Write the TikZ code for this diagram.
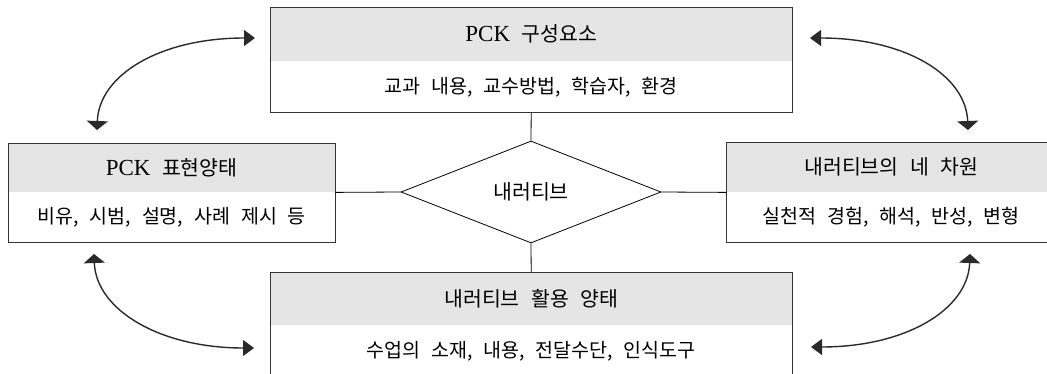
\documentclass[tikz,border=0pt]{standalone}
\usepackage{fontspec}
\setmainfont{Liberation Serif}
\newfontfamily\kr[WordSpace=2.5]{Noto Sans CJK KR}
\usetikzlibrary{shapes.geometric,arrows.meta}
\definecolor{hdr}{HTML}{E5E5E5}
\definecolor{frm}{HTML}{333333}
\definecolor{arc}{HTML}{2A2A2A}
\newcommand{\pck}{{\fontsize{23}{26}\selectfont\rmfamily PCK}}
\tikzset{
  hd/.style={fill=hdr, inner sep=0pt, anchor=north west, text=black, font=\fontsize{20.5}{24}\selectfont\kr},
  bd/.style={inner sep=0pt, anchor=north west, text=black, font=\fontsize{19.5}{23}\selectfont\kr},
  frame/.style={draw=frm, line width=0.9pt},
  link/.style={draw=black, line width=0.8pt},
  arr/.style={draw=arc, line width=1.4pt},
  htip/.tip={Triangle[length=11pt,width=16pt]},
  vtip/.tip={Triangle[length=9pt,width=21pt]}
}
\begin{document}
\begin{tikzpicture}[x=1pt,y=-1pt]
\useasboundingbox (0,0) rectangle (1047,374);
\clip (0,0) rectangle (1047,374);
% top box
\node[hd, minimum width=522pt, minimum height=54pt] (topH) at (270,7) {\pck{} 구성요소};
\node[bd, minimum width=522pt, minimum height=51pt] (topB) at (topH.south west) {교과 내용, 교수방법, 학습자, 환경};
\draw[frame] (topH.north west) rectangle (topB.south east);
% left box
\node[hd, minimum width=327pt, minimum height=49pt] (leftH) at (8,143) {\pck{} 표현양태};
\node[bd, minimum width=327pt, minimum height=50pt] (leftB) at (leftH.south west) {비유, 시범, 설명, 사례 제시 등};
\draw[frame] (leftH.north west) rectangle (leftB.south east);
% right box
\node[hd, minimum width=330pt, minimum height=50pt] (rightH) at (726,142) {내러티브의 네 차원};
\node[bd, minimum width=330pt, minimum height=50pt] (rightB) at (rightH.south west) {실천적 경험, 해석, 반성, 변형};
\draw[frame] (rightH.north west) rectangle (rightB.south east);
% bottom box
\node[hd, minimum width=522pt, minimum height=53pt] (botH) at (270,272) {내러티브 활용 양태};
\node[bd, minimum width=522pt, minimum height=52pt] (botB) at (botH.south west) {수업의 소재, 내용, 전달수단, 인식도구};
\draw[frame] (botH.north west) rectangle (botB.south east);
% diamond
\node[diamond, draw=black, line width=0.8pt, minimum width=260pt, minimum height=102pt, inner sep=0pt, aspect=2.5, font=\fontsize{20.5}{24}\selectfont\kr] (dia) at (531,192) {내러티브};
% links
\draw[link] (topB.south) -- (dia.north);
\draw[link] (botH.north) -- (dia.south);
\draw[link] (leftH.south east) -- (dia.west);
\draw[link] (rightH.south west) -- (dia.east);
% curved arrows
\coordinate (tlV) at (97,130);
\coordinate (tlH) at (255,38);
\coordinate (trV) at (968,130);
\coordinate (trH) at (810,38);
\coordinate (blV) at (94,254);
\coordinate (blH) at (254,348);
\coordinate (brV) at (970,254);
\coordinate (brH) at (811,347);
\draw[arr, {vtip}-{htip}] (tlV) .. controls (99,75) and (160,38) .. (tlH);
\draw[arr, {vtip}-{htip}] (trV) .. controls (966,75) and (905,38) .. (trH);
\draw[arr, {vtip}-{htip}] (blV) .. controls (96,310) and (160,348) .. (blH);
\draw[arr, {vtip}-{htip}] (brV) .. controls (968,310) and (905,347) .. (brH);
\end{tikzpicture}
\end{document}
